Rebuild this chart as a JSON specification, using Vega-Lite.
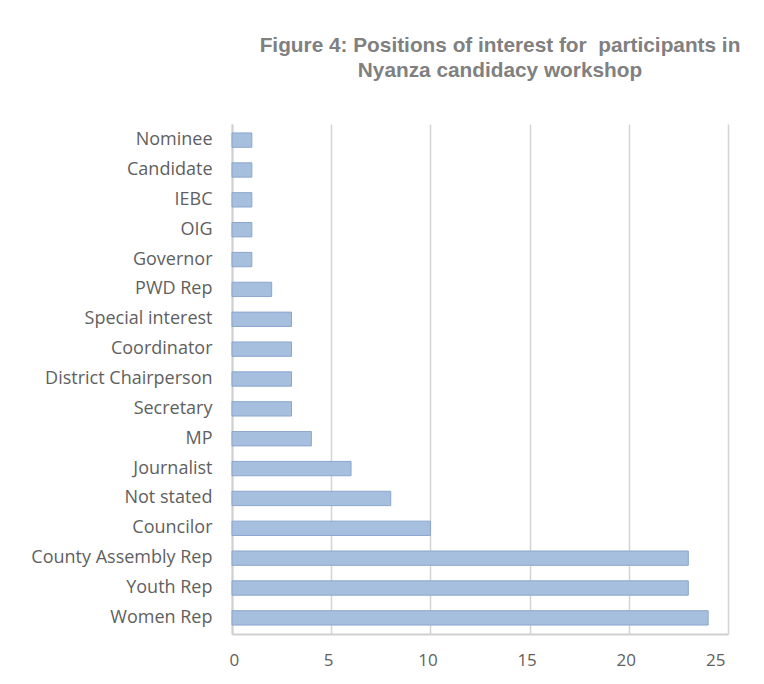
{
  "$schema": "https://vega.github.io/schema/vega-lite/v6.json",
  "autosize": {"type": "none"},
  "width": 496,
  "height": 510,
  "padding": {"left": 232, "top": 124, "right": 36, "bottom": 50},
  "background": "white",
  "title": {
    "text": ["Figure 4: Positions of interest for \u00a0participants in", "Nyanza candidacy workshop"],
    "font": "Liberation Sans",
    "fontSize": 20.8,
    "fontWeight": "bold",
    "color": "#808080",
    "anchor": "middle",
    "dx": 20,
    "lineHeight": 25,
    "offset": 42
  },
  "data": {
    "values": [
      {"position": "Nominee", "count": 1},
      {"position": "Candidate", "count": 1},
      {"position": "IEBC", "count": 1},
      {"position": "OIG", "count": 1},
      {"position": "Governor", "count": 1},
      {"position": "PWD Rep", "count": 2},
      {"position": "Special interest", "count": 3},
      {"position": "Coordinator", "count": 3},
      {"position": "District Chairperson", "count": 3},
      {"position": "Secretary", "count": 3},
      {"position": "MP", "count": 4},
      {"position": "Journalist", "count": 6},
      {"position": "Not stated", "count": 8},
      {"position": "Councilor", "count": 10},
      {"position": "County Assembly Rep", "count": 23},
      {"position": "Youth Rep", "count": 23},
      {"position": "Women Rep", "count": 24}
    ]
  },
  "mark": {"type": "bar", "fill": "#a7bfdf", "stroke": "#8aa6cc", "strokeWidth": 1},
  "encoding": {
    "y": {
      "field": "position",
      "type": "nominal",
      "sort": null,
      "scale": {"paddingInner": 0.52, "paddingOuter": 0.3},
      "axis": {
        "title": null,
        "ticks": false,
        "labelPadding": 20,
        "labelLimit": 400,
        "labelFont": "Open Sans",
        "labelFontSize": 18,
        "labelColor": "#5f5f5f",
        "domainColor": "#d0d0d0",
        "domainWidth": 2,
        "grid": false
      }
    },
    "x": {
      "field": "count",
      "type": "quantitative",
      "scale": {"domain": [0, 25]},
      "axis": {
        "title": null,
        "values": [0, 5, 10, 15, 20, 25],
        "ticks": false,
        "labelPadding": 18,
        "labelOffset": -3,
        "labelFont": "Open Sans",
        "labelFontSize": 17,
        "labelColor": "#5f5f5f",
        "domainColor": "#d0d0d0",
        "domainWidth": 2,
        "grid": true,
        "gridColor": "#d4d4d4",
        "gridWidth": 1.5
      }
    }
  },
  "config": {"view": {"stroke": null}}
}
